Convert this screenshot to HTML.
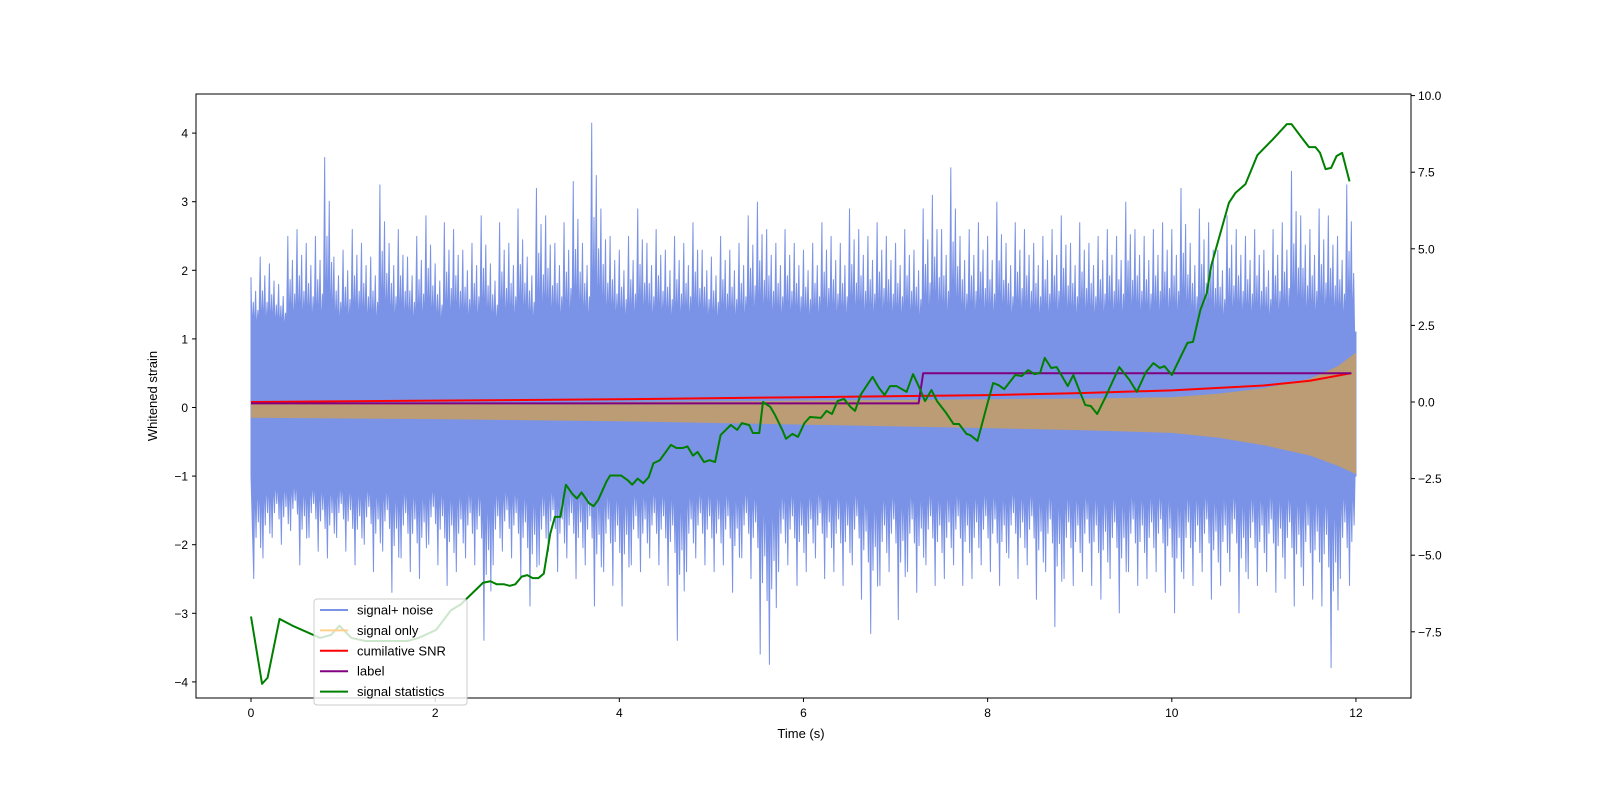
<!DOCTYPE html>
<html><head><meta charset="utf-8"><style>
html,body{margin:0;padding:0;background:#fff;}
svg text{font-family:"Liberation Sans","DejaVu Sans",sans-serif;fill:#000;}
</style></head><body>
<svg id="chart" width="1600" height="800" viewBox="0 0 1600 800" xmlns="http://www.w3.org/2000/svg">
<rect width="1600" height="800" fill="#fff"/>
<defs><clipPath id="plotclip"><rect x="196" y="94" width="1215" height="604"/></clipPath></defs>
<g id="plot" clip-path="url(#plotclip)"></g>
<rect x="196" y="94" width="1215" height="604" fill="none" stroke="#000" stroke-width="1"/>
<g id="axes"></g>
<text x="801" y="738" font-size="13" text-anchor="middle">Time (s)</text>
<text x="157" y="396" font-size="13" text-anchor="middle" transform="rotate(-90 157 396)">Whitened strain</text>
<g id="legend"></g>
</svg>
<script>
// ---- data ----
const noiseUpper = [1.9,2.2,2.1,1.8,2.5,2.6,2.4,2.5,3.65,2.2, 2.3,2.6,2.4,2.2,3.25,2.4,2.6,2.2,2.5,2.8, 2.1,2.7,2.6,2.3,2.4,2.8,2.1,2.7,2.4,2.9, 2.2,3.2,2.8,2.4,2.7,3.3,2.4,4.15,2.9,2.5, 2.3,2.5,2.9,2.4,2.6,2.3,2.5,2.4,2.7,2.3, 2.2,2.5,2.3,2.4,2.8,3.0,2.6,2.4,2.6,2.4, 2.3,2.4,2.7,2.5,2.4,2.9,2.6,2.5,2.7,2.5, 2.4,2.6,2.3,2.9,3.1,2.6,3.5,2.5,2.6,2.7, 2.5,3.0,2.4,2.7,2.6,2.4,2.5,2.6,2.8,2.4, 2.7,2.4,2.5,2.6,2.5,3.0,2.6,2.5,2.6,2.7, 2.6,3.2,2.4,2.9,2.7,2.3,2.8,2.6,2.5,2.6, 2.3,2.6,2.7,3.45,2.8,2.6,2.9,2.8,2.5,3.25];
const noiseLower = [-2.5,-2.2,-1.9,-2.0,-1.8,-2.3,-1.9,-2.1,-2.2,-1.9, -2.1,-2.3,-2.0,-2.4,-2.1,-2.7,-2.2,-2.4,-2.5,-2.0, -2.3,-2.6,-2.4,-2.2,-2.3,-3.4,-2.3,-2.1,-2.2,-2.5, -2.9,-2.3,-2.1,-2.4,-2.2,-2.5,-2.3,-2.9,-2.4,-2.6, -2.9,-2.3,-2.4,-2.2,-2.3,-2.6,-3.4,-2.4,-2.2,-2.3, -2.4,-2.3,-2.7,-2.2,-2.5,-3.6,-3.75,-2.4,-2.3,-2.6, -2.4,-2.2,-2.5,-2.4,-2.6,-2.3,-2.8,-3.3,-2.6,-2.4, -3.1,-2.4,-2.7,-2.3,-2.6,-2.5,-2.3,-2.6,-2.5,-2.3, -2.4,-2.6,-2.2,-2.5,-2.3,-2.8,-2.4,-3.2,-2.5,-2.6, -2.4,-2.6,-2.8,-2.5,-3.0,-2.4,-2.6,-2.5,-2.4,-2.7, -3.0,-2.5,-2.6,-2.4,-2.8,-2.6,-2.4,-3.0,-2.5,-2.6, -2.4,-2.7,-2.5,-2.9,-2.6,-2.8,-2.9,-3.8,-2.5,-2.6];
const signalTimes = [0,2,4,6,8,9,10,10.5,11,11.5,11.8,12];
const signalTop = [0.05,0.06,0.08,0.1,0.12,0.13,0.15,0.2,0.28,0.42,0.6,0.8];
const signalBottom = [-0.15,-0.17,-0.2,-0.25,-0.3,-0.33,-0.37,-0.44,-0.55,-0.7,-0.85,-0.97];
const snrTimes = [0,2,4,6,8,9,10,11,11.5,11.95];
const snrValues = [0.08,0.1,0.12,0.15,0.18,0.21,0.25,0.32,0.39,0.5];
const labelTimes = [0,7.25,7.3,11.95];
const labelValues = [0.06,0.06,0.5,0.5];
const statTimes = [0,0.12,0.18,0.31,0.45,0.75,0.87,0.96,1.09,1.24,1.7,1.82,2.01,2.17,2.28,2.52,2.6,2.67,2.75,2.81,2.87,2.94,3.0,3.06,3.12,3.18,3.25,3.3,3.36,3.42,3.49,3.54,3.59,3.67,3.72,3.77,3.86,3.9,4.02,4.09,4.14,4.2,4.26,4.32,4.37,4.44,4.56,4.62,4.69,4.74,4.8,4.85,4.92,4.98,5.04,5.1,5.21,5.28,5.33,5.41,5.45,5.52,5.56,5.64,5.69,5.77,5.81,5.88,5.94,6.01,6.07,6.19,6.25,6.31,6.37,6.44,6.51,6.56,6.62,6.75,6.82,6.88,6.94,7.01,7.12,7.19,7.26,7.32,7.39,7.45,7.55,7.63,7.69,7.77,7.81,7.89,8.0,8.06,8.12,8.18,8.3,8.37,8.44,8.51,8.57,8.62,8.69,8.75,8.87,8.93,9.06,9.12,9.19,9.28,9.36,9.43,9.54,9.62,9.72,9.8,9.87,9.92,10.0,10.17,10.23,10.31,10.38,10.43,10.62,10.69,10.8,10.93,11.09,11.25,11.3,11.43,11.49,11.56,11.61,11.67,11.73,11.79,11.85,11.93];
const statValues = [-7.0,-9.2,-9.0,-7.08,-7.3,-7.7,-7.6,-7.3,-7.7,-7.8,-7.8,-7.7,-7.44,-6.8,-6.6,-5.9,-5.85,-5.95,-5.95,-6.0,-5.95,-5.7,-5.65,-5.75,-5.75,-5.6,-4.3,-3.75,-3.75,-2.7,-3.0,-3.15,-2.95,-3.3,-3.4,-3.2,-2.6,-2.4,-2.4,-2.55,-2.7,-2.5,-2.65,-2.45,-2.0,-1.9,-1.4,-1.5,-1.5,-1.45,-1.75,-1.63,-1.96,-1.9,-1.96,-1.08,-0.75,-0.91,-0.69,-0.75,-1.01,-1.01,0.0,-0.16,-0.42,-0.91,-1.2,-1.04,-1.14,-0.69,-0.49,-0.52,-0.29,-0.39,0.03,0.1,-0.16,-0.29,0.23,0.82,0.46,0.23,0.52,0.52,0.33,0.91,0.46,0.03,0.39,0.03,-0.36,-0.72,-0.72,-1.04,-1.08,-1.27,-0.03,0.62,0.55,0.42,0.88,0.85,1.04,0.91,0.95,1.44,1.11,1.14,0.52,0.88,-0.1,-0.13,-0.39,0.16,0.69,1.14,0.72,0.33,0.98,1.27,1.11,1.17,0.88,1.93,1.96,3.0,3.56,4.47,6.5,6.82,7.11,8.06,8.55,9.07,9.07,8.55,8.32,8.32,8.13,7.6,7.64,8.03,8.13,7.2];
const xTicks = [0,2,4,6,8,10,12];
const yLeftTicks = [-4,-3,-2,-1,0,1,2,3,4];
const yRightTicks = [-7.5,-5.0,-2.5,0.0,2.5,5.0,7.5,10.0];
const legendLabels = ["signal+ noise","signal only","cumilative SNR","label","signal statistics"];
const legendColors = ["#7b93e6","#ffd08a","#ff0000","#800080","#008000"];

// ---- axes ----
const NS="http://www.w3.org/2000/svg";
const X = t => 251 + t*92.08;
const YL = v => 407.5 - v*68.6;
const YR = v => 402 - v*30.64;
function el(tag, attrs, parent){const e=document.createElementNS(NS,tag);for(const k in attrs)e.setAttribute(k,attrs[k]);parent.appendChild(e);return e;}
const plot=document.getElementById('plot'), axes=document.getElementById('axes'), legend=document.getElementById('legend');

// noise
const coreTop=1.1, coreBot=-1.0;
let up=[], lo=[];
noiseUpper.forEach((u,i)=>{const t=i*0.1;
 up.push([X(t),YL(u)],[X(t+0.01),YL(coreTop)],
   [X(t+0.025),YL(coreTop+0.55*(u-coreTop))],[X(t+0.035),YL(coreTop)],
   [X(t+0.05),YL(coreTop+0.75*(u-coreTop))],[X(t+0.06),YL(coreTop)],
   [X(t+0.075),YL(coreTop+0.4*(u-coreTop))],[X(t+0.085),YL(coreTop)]);});
noiseLower.forEach((l,i)=>{const t=i*0.1+0.03;
 lo.push([X(t),YL(l)],[X(t+0.01),YL(coreBot)],
   [X(t+0.025),YL(coreBot+0.6*(l-coreBot))],[X(t+0.035),YL(coreBot)],
   [X(t+0.05),YL(coreBot+0.45*(l-coreBot))],[X(t+0.06),YL(coreBot)],
   [X(t+0.075),YL(coreBot+0.7*(l-coreBot))],[X(t+0.085),YL(coreBot)]);});
up=up.filter(p=>p[0]<=X(12));lo=lo.filter(p=>p[0]<=X(12));
const noisePts=[[X(0),YL(coreBot)],[X(0),YL(coreTop)],...up,[X(12),YL(coreTop)],[X(12),YL(coreBot)],...lo.reverse()];
const noise=el('polygon',{points:noisePts.map(p=>p.join(',')).join(' '),fill:'#7b93e6',stroke:'#7b93e6','stroke-width':1,'stroke-linejoin':'miter','stroke-miterlimit':2},plot);



// signal only band
const band=[...signalTimes.map((t,i)=>[X(t),YL(signalTop[i])]),...signalTimes.map((t,i)=>[X(t),YL(signalBottom[i])]).reverse()];
const sig=el('polygon',{points:band.map(p=>p.join(',')).join(' '),fill:'#bc9c75'},plot);



function line(ts,vs,Y,color,name){const p=el('polyline',{points:ts.map((t,i)=>X(t)+','+Y(vs[i])).join(' '),fill:'none',stroke:color,'stroke-width':2,'stroke-linejoin':'round'},plot);
 
 }
line(snrTimes,snrValues,YL,'#ff0000','cumulative-snr-line');
line(labelTimes,labelValues,YL,'#800080','label-line');
line(statTimes,statValues,YR,'#008000','signal-statistics-line');

// ticks
xTicks.forEach(t=>{el('line',{x1:X(t),x2:X(t),y1:698,y2:702,stroke:'#000'},axes);
 const tx=el('text',{x:X(t),y:717,'font-size':12,'text-anchor':'middle'},axes);tx.textContent=t;
 
 });
yLeftTicks.forEach(v=>{el('line',{x1:192,x2:196,y1:YL(v),y2:YL(v),stroke:'#000'},axes);
 const tx=el('text',{x:188,y:YL(v)+4.5,'font-size':12,'text-anchor':'end'},axes);tx.textContent=(v<0?'\u2212'+(-v):v);
 
 });
yRightTicks.forEach(v=>{el('line',{x1:1411,x2:1415,y1:YR(v),y2:YR(v),stroke:'#000'},axes);
 const tx=el('text',{x:1418,y:YR(v)+4.5,'font-size':12},axes);tx.textContent=(v<0?'\u2212'+(-v).toFixed(1):v.toFixed(1));
 
 });

// legend
el('rect',{x:314,y:599,width:153,height:106,rx:3,fill:'#fff','fill-opacity':0.8,stroke:'#ccc'},legend);
legendLabels.forEach((lab,i)=>{const y=610+i*20.4;
 const g=el('g',{},legend);
 
 
 el('line',{x1:320,x2:348,y1:y,y2:y,stroke:legendColors[i],'stroke-width':2},g);
 const tx=el('text',{x:357,y:y+4.5,'font-size':13},g);tx.textContent=lab;});
</script>
</body></html>
